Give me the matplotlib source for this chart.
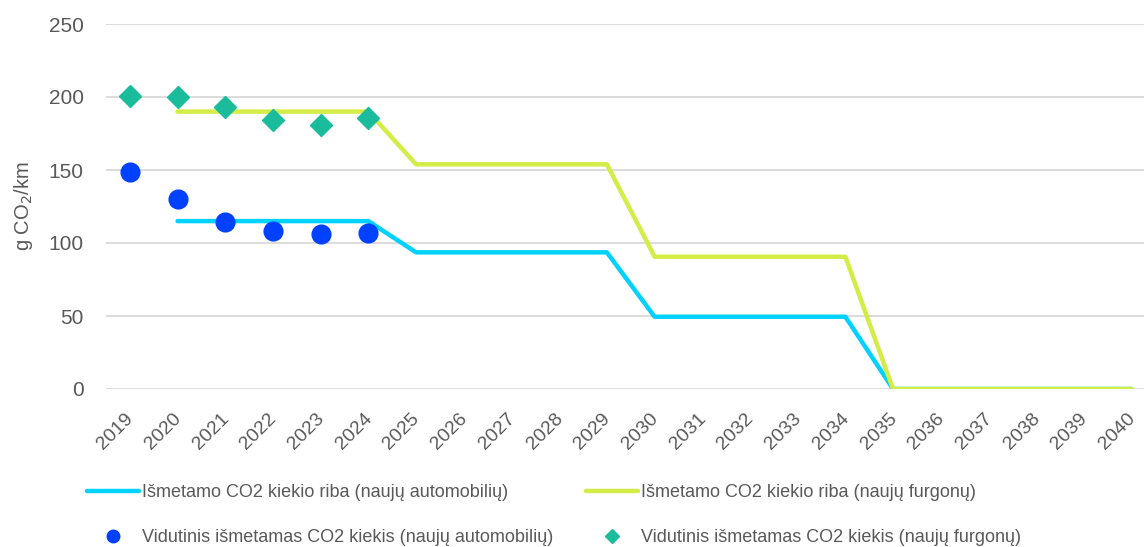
import matplotlib
matplotlib.use("Agg")
import matplotlib.pyplot as plt
import matplotlib.transforms as mtransforms
import numpy as np
from matplotlib.lines import Line2D

plt.rcParams['font.family'] = ['Liberation Sans', 'DejaVu Sans']

years = [str(y) for y in range(2019, 2041)]
car_limit = [None, 115, 115, 115, 115, 115, 93.6, 93.6, 93.6, 93.6, 93.6,
             49.5, 49.5, 49.5, 49.5, 49.5, 0, 0, 0, 0, 0, 0]
van_limit = [None, 190, 190, 190, 190, 190, 153.9, 153.9, 153.9, 153.9, 153.9,
             90.6, 90.6, 90.6, 90.6, 90.6, 0, 0, 0, 0, 0, 0]
car_avg_years = ["2019", "2020", "2021", "2022", "2023", "2024"]
car_avg = [148.4, 130.4, 114.4, 108.2, 106.4, 107.1]
van_avg = [200.9, 200.2, 192.9, 184.0, 180.6, 185.4]

labels = ["Išmetamo CO2 kiekio riba (naujų automobilių)",
          "Išmetamo CO2 kiekio riba (naujų furgonų)",
          "Vidutinis išmetamas CO2 kiekis (naujų automobilių)",
          "Vidutinis išmetamas CO2 kiekis (naujų furgonų)"]

c_car_line = "#00D2FF"
c_van_line = "#D4EC46"
c_car_pt = "#0041FF"
c_van_pt = "#1ABC9C"
txt = "#595959"

W, H = 1144, 547
fig = plt.figure(figsize=(W / 100, H / 100), dpi=100)
ax = fig.add_axes([106 / W, 1 - 389 / H, (1144 - 106) / W, (389 - 24) / H])

x = np.arange(len(years))
cl = np.array([np.nan if v is None else v for v in car_limit], dtype=float)
vl = np.array([np.nan if v is None else v for v in van_limit], dtype=float)
ax.plot(x, cl, color=c_car_line, lw=3.2, solid_capstyle='round', zorder=3)
ax.plot(x, vl, color=c_van_line, lw=3.2, solid_capstyle='round', zorder=3)

xi = [years.index(y) for y in car_avg_years]
ax.plot(xi, car_avg, 'o', color=c_car_pt, ms=13.5, ls='none', zorder=4)
ax.plot(xi, van_avg, 'D', color=c_van_pt, ms=11, ls='none', zorder=4)

ax.set_ylim(0, 250)
ax.set_yticks([0, 50, 100, 150, 200, 250])
ax.set_xlim(-0.5, 21.26)
ax.set_xticks(x)
ax.set_xticklabels(years, rotation=45, ha='right', va='top', rotation_mode='anchor')
ax.grid(axis='y', color='#D9D9D9', lw=1.3)
ax.set_axisbelow(True)
for s in ax.spines.values():
    s.set_visible(False)
ax.tick_params(axis='y', length=0, pad=16, labelsize=15, labelcolor=txt)
ax.tick_params(axis='x', length=0, pad=15, labelsize=14, labelcolor=txt)
ax.set_ylabel("g CO$_2$/km", fontsize=14.5, color=txt, labelpad=10)

offset = mtransforms.ScaledTranslation(-5 / 100, 0, fig.dpi_scale_trans)
for t in ax.get_xticklabels():
    t.set_transform(t.get_transform() + offset)

handles = [Line2D([], [], color=c_car_line, lw=3.2, solid_capstyle='round'),
           Line2D([], [], color=c_car_pt, marker='o', ls='none', ms=9),
           Line2D([], [], color=c_van_line, lw=3.2, solid_capstyle='round'),
           Line2D([], [], color=c_van_pt, marker='D', ls='none', ms=7)]
hl = [labels[0], labels[2], labels[1], labels[3]]
leg = fig.legend(handles, hl, ncol=2, loc='lower left', bbox_to_anchor=(86 / W, 0.0),
                 frameon=False, fontsize=13, handlelength=2.9, handletextpad=0.15,
                 columnspacing=1.8, labelspacing=1.55, borderaxespad=0.0,
                 borderpad=0.05)
for t in leg.get_texts():
    t.set_color(txt)

fig.savefig("out.png", dpi=100)
